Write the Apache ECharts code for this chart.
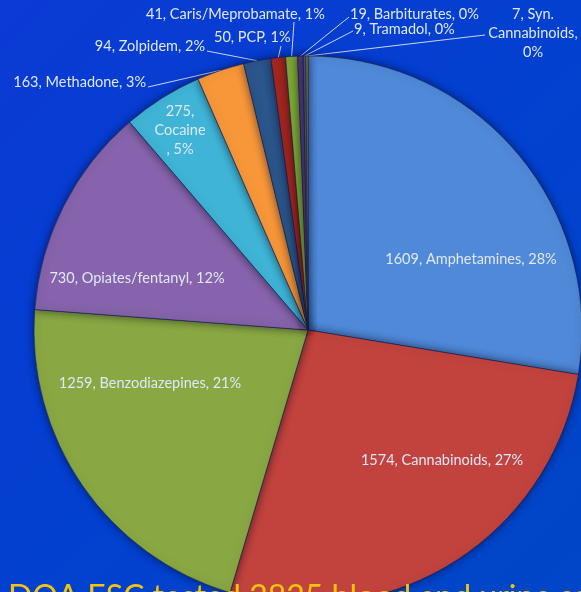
<!DOCTYPE html>
<html>
<head>
<meta charset="utf-8">
<script src="https://cdn.jsdelivr.net/npm/echarts@6/dist/echarts.min.js"></script>
<style>
  html, body { margin: 0; padding: 0; background: #0a3cd0; }
  #main { width: 581px; height: 592px; }
</style>
</head>
<body>
<div id="main"></div>
<script>
// data
var categories = ['Amphetamines', 'Cannabinoids', 'Benzodiazepines', 'Opiates/fentanyl', 'Cocaine',
	'Methadone', 'Zolpidem', 'PCP', 'Caris/Meprobamate', 'Barbiturates', 'Tramadol', 'Syn. Cannabinoids'];
var counts = [1609, 1574, 1259, 730, 275, 163, 94, 50, 41, 19, 9, 7];
var shares = ['28%', '27%', '21%', '12%', '5%', '3%', '2%', '1%', '1%', '0%', '0%', '0%'];
var footnote = 'DOA ESC tested 2825 blood and urine samples';

var colors = ['#4f89d8', '#c2433e', '#89a843', '#8663ac', '#3fb4d6', '#f7973a',
	'#2b568c', '#a6271f', '#7fab38', '#5b3d80', '#2a6f8c', '#b3651c'];

// where each label sits: [x, y, align], plus where the leader line meets it
var spots = [
	[471, 259, 'center'], [442, 460, 'center'], [150, 383, 'center'], [137, 278, 'center'],
	[180, 130, 'center'], [146, 82, 'right'], [205, 46, 'right'], [214, 37, 'left'],
	[146, 14, 'left'], [350, 14, 'left'], [354, 29, 'left'], [533, 33, 'center']
];
var lineEnds = [null, null, null, null, null, [148, 87], [207, 51], [281, 46],
	[294, 22], [349, 17], [353, 31], [485, 35]];

function labelText(i) {
	if (categories[i] == 'Cocaine') {
		return counts[i] + ',\n' + categories[i] + '\n, ' + shares[i];
	}
	if (categories[i] == 'Syn. Cannabinoids') {
		return counts[i] + ', Syn.\nCannabinoids,\n' + shares[i];
	}
	return counts[i] + ', ' + categories[i] + ', ' + shares[i];
}

var pieData = [];
for (var i = 0; i < categories.length; i++) {
	var inside = lineEnds[i] == null;
	pieData.push({
		name : categories[i],
		value : counts[i],
		itemStyle : { color : colors[i] },
		label : { position : inside ? 'inside' : 'outside' },
		labelLine : { show : !inside }
	});
}

var myChart = echarts.init(document.getElementById('main'));
var option = {
	backgroundColor : {
		type : 'linear', x : 0, y : 0, x2 : 1, y2 : 1,
		colorStops : [ { offset : 0, color : '#0b3ad4' }, { offset : 0.5, color : '#0340d0' }, { offset : 1, color : '#0046c6' } ]
	},
	animation : false,
	series : [ {
		type : 'pie',
		center : [308, 330],
		radius : 274,
		startAngle : 90,
		clockwise : true,
		avoidLabelOverlap : false,
		itemStyle : {
			borderColor : 'rgba(20,30,70,0.55)',
			borderWidth : 1,
			shadowBlur : 8,
			shadowColor : 'rgba(0,0,30,0.55)'
		},
		label : {
			color : '#dfe8f7',
			fontFamily : 'Lato',
			fontSize : 14.5,
			lineHeight : 19,
			formatter : function(p) { return labelText(p.dataIndex); }
		},
		labelLine : {
			length : 10,
			length2 : 10,
			lineStyle : { color : '#c9d6f0', width : 1 }
		},
		labelLayout : function(params) {
			var i = params.dataIndex;
			var s = spots[i];
			var out = { x : s[0], y : s[1], align : s[2], verticalAlign : 'middle' };
			var end = lineEnds[i];
			if (end && params.labelLinePoints) {
				var start = params.labelLinePoints[0];
				out.labelLinePoints = [ start, end, end ];
			}
			return out;
		},
		data : pieData
	} ],
	graphic : [ {
		type : 'text',
		z : 100,
		left : 8,
		top : 582,
		style : {
			text : footnote,
			font : '32px Lato',
			fill : '#f2c40c'
		}
	} ]
};
myChart.setOption(option);
</script>
</body>
</html>
